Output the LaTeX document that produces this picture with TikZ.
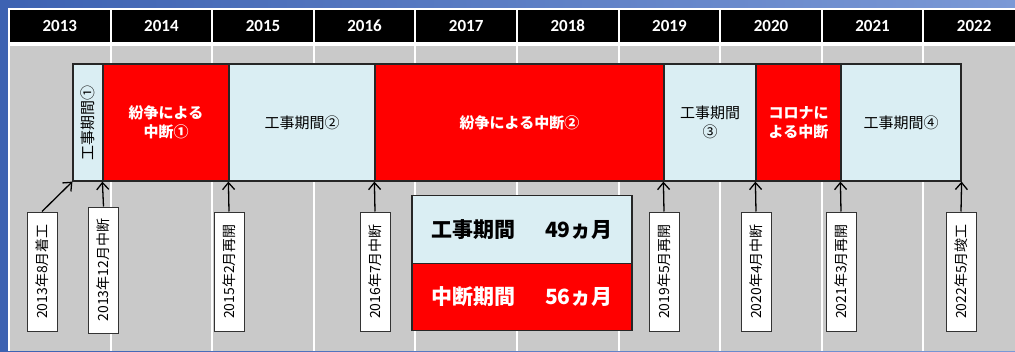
\documentclass[tikz,border=0pt]{standalone}
\usepackage{fontspec}
\setmainfont{Noto Sans CJK JP}
\newfontfamily\yearfont{Carlito}
\usetikzlibrary{arrows.meta}
\definecolor{bgblueL}{HTML}{3D62B2}
\definecolor{bgblueR}{HTML}{7B99D6}
\definecolor{cellgray}{HTML}{C9C9C9}
\definecolor{lblue}{HTML}{DAEEF3}
\definecolor{bred}{HTML}{FF0000}
\tikzset{
  yearcell/.style={fill=black, text=white, inner sep=0pt, minimum width=99.6pt, minimum height=32pt, font=\yearfont\bfseries\fontsize{17}{18}\selectfont},
  workseg/.style={draw=black!85, line width=1.2pt, fill=lblue, inner sep=0pt, minimum height=117pt, align=center, font=\fontsize{15}{19}\selectfont},
  stopseg/.style={workseg, fill=bred, text=white, font=\bfseries\fontsize{15}{19}\selectfont},
  datebox/.style={draw=black!80, line width=1pt, fill=white, inner sep=0pt, rotate=90, minimum height=30pt, minimum width=119pt, font=\fontsize{14}{15}\selectfont},
  arr/.style={draw=black, line width=1.3pt, -{Straight Barb[length=7pt,width=12pt,line width=1.3pt]}},
  legendbox/.style={draw=black!85, line width=1.2pt, inner sep=0pt, minimum width=220pt, minimum height=67.5pt, font=\bfseries\fontsize{21}{24}\selectfont}
}
\begin{document}
\begin{tikzpicture}[x=1pt,y=-1pt]
\useasboundingbox (0,0) rectangle (1015,351);
% background
\shade[left color=bgblueL, right color=bgblueR] (0,0) rectangle (1015,351);
\fill[white] (8,8) rectangle (1015,351);
% gray columns
\foreach \i in {0,...,9} {
  \pgfmathsetmacro{\xa}{9+101.6*\i+1}
  \pgfmathsetmacro{\xb}{9+101.6*(\i+1)-1}
  \fill[cellgray] (\xa,46) rectangle (\xb,351);
}
% header
\foreach \yr [count=\i from 0] in {2013,...,2022} {
  \pgfmathsetmacro{\xc}{9+101.6*\i+50.8}
  \node[yearcell] (y\yr) at (\xc,25.5) {\yr};
}
% timeline bar
\node[workseg, minimum width=30pt] (s1) at (88,122.5) {};
\node[rotate=90, font=\fontsize{15}{19}\selectfont] (s1t) at (s1.center) {工事期間①};
\node[stopseg, minimum width=126pt] (s2) at (166,122.5) {紛争による\\中断①};
\node[workseg, minimum width=146pt] (s3) at (302,122.5) {工事期間②};
\node[stopseg, minimum width=289pt] (s4) at (519.5,122.5) {紛争による中断②};
\node[workseg, minimum width=92pt] (s5) at (710,122.5) {工事期間\\③};
\node[stopseg, minimum width=85pt] (s6) at (798.5,122.5) {コロナに\\よる中断};
\node[workseg, minimum width=120pt] (s7) at (901,122.5) {工事期間④};
% date labels
\node[datebox] (d1) at (42,271.5) {2013年8月着工};
\node[datebox, minimum width=126pt] (d2) at (103.5,270) {2013年12月中断};
\node[datebox] (d3) at (229,271.5) {2015年2月再開};
\node[datebox] (d4) at (375,271.5) {2016年7月中断};
\node[datebox] (d5) at (664,271.5) {2019年5月再開};
\node[datebox] (d6) at (756,271.5) {2020年4月中断};
\node[datebox] (d7) at (841,271.5) {2021年3月再開};
\node[datebox] (d8) at (961,271.5) {2022年5月竣工};
% arrows
\draw[arr] (d1.east) -- (s1.south west);
\draw[arr] (d2.east) -- (s2.south west);
\draw[arr] (d3.east) -- (s3.south west);
\draw[arr] (d4.east) -- (s4.south west);
\draw[arr] (d5.east) -- (s5.south west);
\draw[arr] (d6.east) -- (s6.south west);
\draw[arr] (d7.east) -- (s7.south west);
\draw[arr] (d8.east) -- (s7.south east);
% legend
\node[legendbox, fill=lblue, text=black] (l1) at (522,229.5) {工事期間\hspace{30pt}49ヵ月};
\node[legendbox, fill=bred, text=white] (l2) at (522,297) {中断期間\hspace{30pt}56ヵ月};
\end{tikzpicture}
\end{document}
